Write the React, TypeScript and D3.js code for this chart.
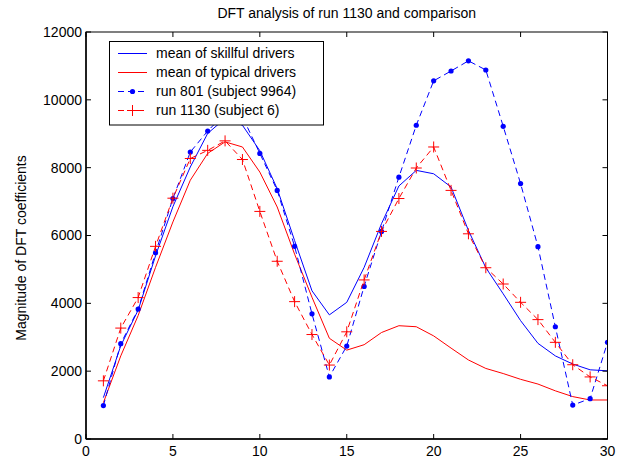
import React, { useEffect, useRef } from "react";
import * as d3 from "d3";

// DFT coefficient index 1..30
const coefIndex = d3.range(1, 31);

const skillfulMean = [
  1220, 2750, 3800, 5400, 6850, 8020, 9010, 9450, 9250, 8500,
  7380, 5850, 4370, 3660, 4030, 5060, 6350, 7460, 7920, 7820,
  7430, 6150, 5050, 4280, 3490, 2820, 2450, 2210, 2040, 2010,
];
const typicalMean = [
  1070, 2450, 3640, 5060, 6400, 7630, 8420, 8760, 8610, 7870,
  6840, 5450, 4180, 2970, 2620, 2780, 3140, 3340, 3310, 3040,
  2680, 2330, 2080, 1930, 1760, 1620, 1420, 1250, 1150, 1150,
];
const run801 = [
  985, 2810, 3830, 5490, 7090, 8460, 9080, 9600, 9500, 8420,
  7330, 5680, 3690, 1830, 2740, 4500, 6120, 7720, 9250, 10560,
  10850, 11150, 10880, 9220, 7530, 5670, 3310, 1000, 1190, 2850,
];
const run1130 = [
  1715, 3270, 4170, 5680, 7100, 8270, 8510, 8790, 8240, 6710,
  5240, 4050, 3080, 2180, 3160, 4690, 6120, 7090, 7990, 8610,
  7330, 6050, 5050, 4570, 4030, 3520, 2850, 2190, 1830, 1570,
];

const xTicks = [0, 5, 10, 15, 20, 25, 30];
const yTicks = [0, 2000, 4000, 6000, 8000, 10000, 12000];

const legendLabels = [
  "mean of skillful drivers",
  "mean of typical drivers",
  "run 801 (subject 9964)",
  "run 1130 (subject 6)",
];

const BLUE = "#0000ff";
const RED = "#ff0000";
const FONT = "Arial, 'Liberation Sans', sans-serif";

export default function App() {
  const svgRef = useRef<SVGSVGElement>(null);

  useEffect(() => {
    const width = 624;
    const height = 460;
    const plot = { left: 86, right: 607.5, top: 32, bottom: 439 };

    const svg = d3.select(svgRef.current);
    svg.selectAll("*").remove();
    svg.attr("width", width).attr("height", height);

    const x = d3.scaleLinear().domain([0, 30]).range([plot.left, plot.right]);
    const y = d3.scaleLinear().domain([0, 12000]).range([plot.bottom, plot.top]);

    svg.append("rect").attr("width", width).attr("height", height).attr("fill", "white");

    const series = [
      { values: skillfulMean, color: BLUE, dash: null, marker: "none" },
      { values: typicalMean, color: RED, dash: null, marker: "none" },
      { values: run801, color: BLUE, dash: "6,4", marker: "dot" },
      { values: run1130, color: RED, dash: "6,4", marker: "plus" },
    ];

    const line = d3
      .line<number>()
      .x((d, i) => x(coefIndex[i]))
      .y((d) => y(d));

    const clip = svg.append("defs").append("clipPath").attr("id", "plotClip");
    clip
      .append("rect")
      .attr("x", plot.left)
      .attr("y", plot.top)
      .attr("width", plot.right - plot.left)
      .attr("height", plot.bottom - plot.top);

    const plotG = svg.append("g").attr("clip-path", "url(#plotClip)");

    // draw lines + markers
    series.forEach((s) => {
      plotG
        .append("path")
        .datum(s.values)
        .attr("d", line)
        .attr("fill", "none")
        .attr("stroke", s.color)
        .attr("stroke-width", 1)
        .attr("stroke-dasharray", s.dash);

      if (s.marker === "dot") {
        plotG
          .selectAll(null)
          .data(s.values)
          .enter()
          .append("circle")
          .attr("cx", (d, i) => x(coefIndex[i]))
          .attr("cy", (d) => y(d))
          .attr("r", 2.6)
          .attr("fill", s.color);
      } else if (s.marker === "plus") {
        plotG
          .selectAll(null)
          .data(s.values)
          .enter()
          .append("path")
          .attr("d", (d, i) => {
            const cx = x(coefIndex[i]);
            const cy = y(d);
            return `M${cx - 5.5},${cy}H${cx + 5.5}M${cx},${cy - 5.5}V${cy + 5.5}`;
          })
          .attr("stroke", s.color)
          .attr("stroke-width", 1)
          .attr("fill", "none");
      }
    });

    // frame and ticks
    const frame = svg.append("g").attr("stroke", "black").attr("stroke-width", 1);
    frame
      .append("rect")
      .attr("x", plot.left)
      .attr("y", plot.top)
      .attr("width", plot.right - plot.left)
      .attr("height", plot.bottom - plot.top)
      .attr("fill", "none");
    frame
      .append("line")
      .attr("x1", plot.left)
      .attr("x2", plot.right)
      .attr("y1", plot.bottom)
      .attr("y2", plot.bottom)
      .attr("stroke-width", 1.5);
    frame
      .append("line")
      .attr("x1", plot.left)
      .attr("x2", plot.left)
      .attr("y1", plot.top)
      .attr("y2", plot.bottom)
      .attr("stroke-width", 1.5);

    const tickLen = 5;
    xTicks.forEach((t) => {
      frame.append("line").attr("x1", x(t)).attr("x2", x(t)).attr("y1", plot.bottom).attr("y2", plot.bottom - tickLen);
      frame.append("line").attr("x1", x(t)).attr("x2", x(t)).attr("y1", plot.top).attr("y2", plot.top + tickLen);
    });
    yTicks.forEach((t) => {
      frame.append("line").attr("x1", plot.left).attr("x2", plot.left + tickLen).attr("y1", y(t)).attr("y2", y(t));
      frame.append("line").attr("x1", plot.right).attr("x2", plot.right - tickLen).attr("y1", y(t)).attr("y2", y(t));
    });

    // tick labels
    svg
      .selectAll(".xlab")
      .data(xTicks)
      .enter()
      .append("text")
      .attr("x", (d) => x(d))
      .attr("y", plot.bottom + 17)
      .attr("text-anchor", "middle")
      .style("font-family", FONT)
      .style("font-size", "14px")
      .text((d) => d);

    svg
      .selectAll(".ylab")
      .data(yTicks)
      .enter()
      .append("text")
      .attr("x", plot.left - 4)
      .attr("y", (d) => y(d))
      .attr("dy", "0.35em")
      .attr("text-anchor", "end")
      .style("font-family", FONT)
      .style("font-size", "14px")
      .text((d) => d);

    // title + axis label
    svg
      .append("text")
      .attr("x", (plot.left + plot.right) / 2)
      .attr("y", 18)
      .attr("text-anchor", "middle")
      .style("font-family", FONT)
      .style("font-size", "14px")
      .text("DFT analysis of run 1130 and comparison");

    svg
      .append("text")
      .attr("transform", `translate(26, 248) rotate(-90)`)
      .attr("text-anchor", "middle")
      .style("font-family", FONT)
      .style("font-size", "14px")
      .text("Magnitude of DFT coefficients");

    // legend
    const legend = svg.append("g");
    legend
      .append("rect")
      .attr("x", 109.5)
      .attr("y", 41.5)
      .attr("width", 214)
      .attr("height", 83.5)
      .attr("fill", "white")
      .attr("stroke", "black")
      .attr("stroke-width", 1);

    series.forEach((s, i) => {
      const ly = 53.5 + i * 19;
      legend
        .append("line")
        .attr("x1", 118)
        .attr("x2", 147)
        .attr("y1", ly)
        .attr("y2", ly)
        .attr("stroke", s.color)
        .attr("stroke-dasharray", s.dash);
      if (s.marker === "dot") {
        legend.append("circle").attr("cx", 132.5).attr("cy", ly).attr("r", 2.6).attr("fill", s.color);
      } else if (s.marker === "plus") {
        legend
          .append("path")
          .attr("d", `M127,${ly}H138M132.5,${ly - 5.5}V${ly + 5.5}`)
          .attr("stroke", s.color)
          .attr("fill", "none");
      }
      legend
        .append("text")
        .attr("x", 156)
        .attr("y", ly)
        .attr("dy", "0.35em")
        .style("font-family", FONT)
        .style("font-size", "14px")
        .text(legendLabels[i]);
    });
  }, []);

  return (
    <svg
      ref={svgRef}
      style={{ position: "absolute", left: 0, top: 0, display: "block" }}
    ></svg>
  );
}
